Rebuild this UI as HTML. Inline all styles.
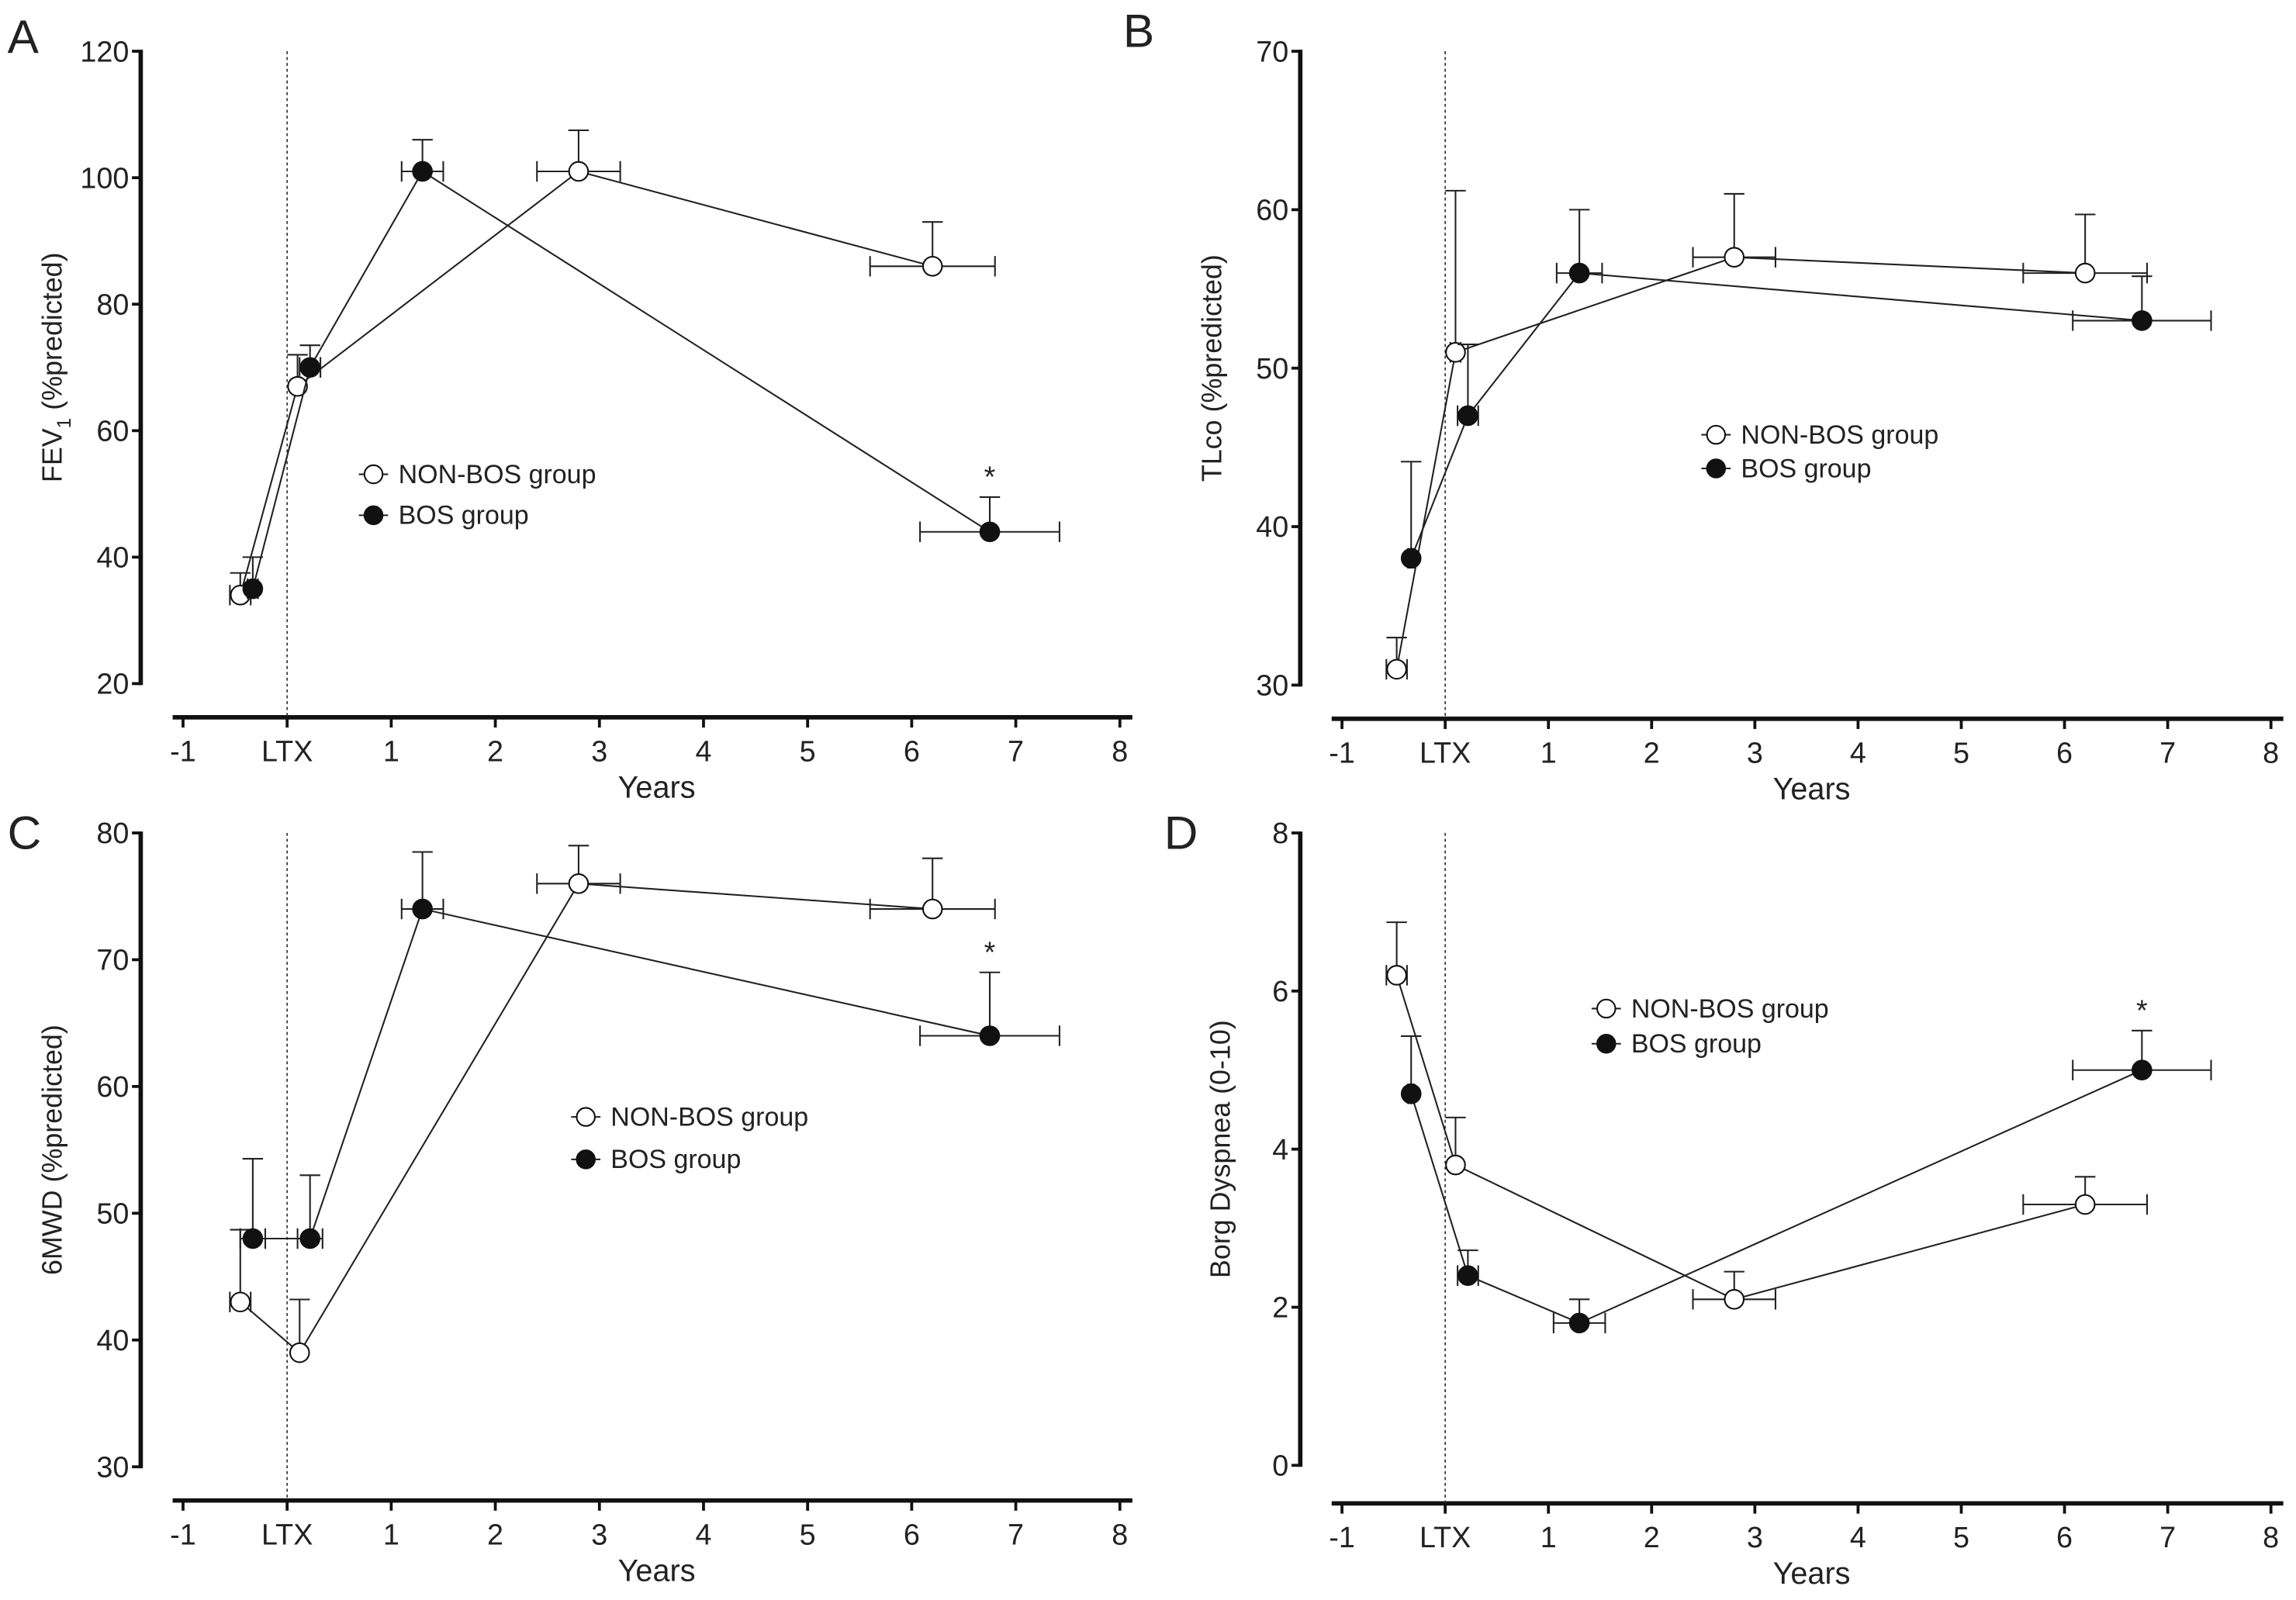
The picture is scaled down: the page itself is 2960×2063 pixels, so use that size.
<!DOCTYPE html>
<html><head><meta charset="utf-8"><style>
html,body{margin:0;padding:0;background:#fff;}
svg{display:block;}
text{font-family:"Liberation Sans Narrow","Liberation Sans",sans-serif;fill:#222;}
.yl{font-family:"Liberation Sans",sans-serif;}
</style></head><body>
<svg id="fig" width="2960" height="2063" viewBox="0 0 1568 1093" xmlns="http://www.w3.org/2000/svg"></svg>
<script>
// x values (years), shared
const xTicks = [-1,0,1,2,3,4,5,6,7,8];
const xTickLabels = ["-1","LTX","1","2","3","4","5","6","7","8"];

// Panel A: FEV1
const aNonX = [-0.45,0.1,2.8,6.2], aNonY = [34,67,101,86], aNonYe = [3.5,5,6.5,7], aNonXe = [0.1,0,0.4,0.6];
const aBosX = [-0.33,0.22,1.3,6.75], aBosY = [35,70,101,44], aBosYe = [5,3.5,5,5.5], aBosXe = [0.05,0.1,0.2,0.67];
const aTicks = [20,40,60,80,100,120];
// Panel B: TLco
const bNonX = [-0.47,0.1,2.8,6.2], bNonY = [31,51,57,56], bNonYe = [2,10.2,4,3.7], bNonXe = [0.1,0.05,0.4,0.6];
const bBosX = [-0.33,0.22,1.3,6.75], bBosY = [38,47,56,53], bBosYe = [6.1,4.5,4,2.8], bBosXe = [0.03,0.1,0.22,0.67];
const bTicks = [30,40,50,60,70];
// Panel C: 6MWD
const cNonX = [-0.45,0.12,2.8,6.2], cNonY = [43,39,76,74], cNonYe = [5.7,4.2,3,4], cNonXe = [0.1,0,0.4,0.6];
const cBosX = [-0.33,0.22,1.3,6.75], cBosY = [48,48,74,64], cBosYe = [6.3,5,4.5,5], cBosXe = [0.12,0.12,0.2,0.67];
const cTicks = [30,40,50,60,70,80];
// Panel D: Borg
const dNonX = [-0.47,0.1,2.8,6.2], dNonY = [6.2,3.8,2.1,3.3], dNonYe = [0.67,0.6,0.35,0.35], dNonXe = [0.1,0,0.4,0.6];
const dBosX = [-0.33,0.22,1.3,6.75], dBosY = [4.7,2.4,1.8,5.0], dBosYe = [0.73,0.32,0.3,0.5], dBosXe = [0.03,0.1,0.25,0.67];
const dTicks = [0,2,4,6,8];

const NS="http://www.w3.org/2000/svg";
const svg=document.getElementById('fig');
function mk(tag,attrs,parent){const e=document.createElementNS(NS,tag);for(const k in attrs)e.setAttribute(k,attrs[k]);(parent||svg).appendChild(e);return e;}

function panel(p){
  const g=mk('g',{});
  
  
  const X=v=>p.x0+v*p.xs;
  const Y=v=>p.yTop+(p.yMax-v)/(p.yMax-p.yMin)*(p.yBot-p.yTop);
  const L=mk('text',{x:p.lx,y:p.ly,'font-size':32,class:'yl'},g);L.textContent=p.id;
  
  
  const ya=mk('line',{x1:p.ax,x2:p.ax,y1:Y(p.yMax)-1,y2:Y(p.yMin)+1,stroke:'#111','stroke-width':3},g);
  
  
  p.ticks.forEach(t=>{
    mk('line',{x1:p.ax-6,x2:p.ax,y1:Y(t),y2:Y(t),stroke:'#111','stroke-width':2},g);
    const tx=mk('text',{x:p.ax-8,y:Y(t)+7,'font-size':20,'text-anchor':'end'},g);tx.textContent=t;
    
    
  });
  const xa=mk('line',{x1:X(-1.1),x2:X(8.12),y1:p.xay,y2:p.xay,stroke:'#111','stroke-width':3},g);
  
  
  xTicks.forEach((t,i)=>{
    mk('line',{x1:X(t),x2:X(t),y1:p.xay,y2:p.xay+7,stroke:'#111','stroke-width':2},g);
    const tx=mk('text',{x:X(t),y:p.xay+30,'font-size':20,'text-anchor':'middle'},g);tx.textContent=xTickLabels[i];
    
    
  });
  const xt=mk('text',{x:X(3.55),y:p.xay+55,'font-size':21,'text-anchor':'middle'},g);xt.textContent='Years';
  
  
  const yt=mk('text',{x:0,y:0,'font-size':19,'text-anchor':'middle',class:'yl',transform:`translate(${p.ytx},${(Y(p.yMax)+Y(p.yMin))/2}) rotate(-90)`},g);
  yt.innerHTML=p.ytitle;
  
  
  const dl=mk('line',{x1:X(0),x2:X(0),y1:Y(p.yMax),y2:p.xay,stroke:'#333','stroke-width':0.9,'stroke-dasharray':'2,2'},g);
  
  
  function series(xs,ys,ye,xe,filled,name){
    const sg=mk('g',{},g);
    
    
    const pts=xs.map((x,i)=>X(x)+','+Y(ys[i])).join(' ');
    mk('polyline',{points:pts,fill:'none',stroke:'#222','stroke-width':1.1},sg);
    xs.forEach((x,i)=>{
      const cx=X(x),cy=Y(ys[i]),top=Y(ys[i]+ye[i]);
      const eb=mk('path',{d:`M${cx},${cy}V${top}M${cx-7},${top}H${cx+7}`,stroke:'#222','stroke-width':1.1,fill:'none'},sg);
      
      
      if(xe[i]>0){const l=X(x-xe[i]),r=X(x+xe[i]);
        mk('path',{d:`M${l},${cy}H${r}M${l},${cy-7}V${cy+7}M${r},${cy-7}V${cy+7}`,stroke:'#222','stroke-width':1.1,fill:'none'},sg);}
      const c=mk('circle',{cx:cx,cy:cy,r:6.5,fill:filled?'#111':'#fff',stroke:'#111','stroke-width':1.1},sg);
      
      
    });
  }
  series(p.nx,p.ny,p.nye,p.nxe,false,'series-non-bos');
  series(p.bx,p.by,p.bye,p.bxe,true,'series-bos');
  if(p.star){const s=mk('text',{x:X(p.bx[3]),y:Y(p.by[3]+p.bye[3])-7,'font-size':20,'text-anchor':'middle'},g);s.textContent='*';
    
    }
  const lg=mk('g',{},g);
  
  
  [['NON-BOS group',false,0],['BOS group',true,p.lgap]].forEach(([t,f,dy])=>{
    const e=mk('g',{},lg);
    
    
    const y=p.lgy+dy;
    mk('line',{x1:p.lgx-10,x2:p.lgx+10,y1:y,y2:y,stroke:'#222','stroke-width':1.1},e);
    mk('circle',{cx:p.lgx,cy:y,r:6.2,fill:f?'#111':'#fff',stroke:'#111','stroke-width':1.1},e);
    const tx=mk('text',{x:p.lgx+17,y:y+6,'font-size':18},e);tx.textContent=t;
  });
}

panel({id:'A',lx:5,ly:36,ax:96,x0:196,xs:71.1,yTop:35,yBot:467,yMin:20,yMax:120,ticks:aTicks,xay:490,ytx:42,
 ytitle:'FEV<tspan font-size="13" dy="6">1</tspan><tspan dy="-6"> (%predicted)</tspan>',
 nx:aNonX,ny:aNonY,nye:aNonYe,nxe:aNonXe,bx:aBosX,by:aBosY,bye:aBosYe,bxe:aBosXe,star:true,lgx:255,lgy:324,lgap:28});
panel({id:'B',lx:767,ly:32,ax:888,x0:987,xs:70.5,yTop:35,yBot:468,yMin:30,yMax:70,ticks:bTicks,xay:491,ytx:834,
 ytitle:'TLco (%predicted)',
 nx:bNonX,ny:bNonY,nye:bNonYe,nxe:bNonXe,bx:bBosX,by:bBosY,bye:bBosYe,bxe:bBosXe,star:false,lgx:1172,lgy:297,lgap:23});
panel({id:'C',lx:5,ly:580,ax:96,x0:196,xs:71.1,yTop:569,yBot:1002,yMin:30,yMax:80,ticks:cTicks,xay:1025,ytx:42,
 ytitle:'6MWD (%predicted)',
 nx:cNonX,ny:cNonY,nye:cNonYe,nxe:cNonXe,bx:cBosX,by:cBosY,bye:cBosYe,bxe:cBosXe,star:true,lgx:400,lgy:763,lgap:29});
panel({id:'D',lx:795,ly:580,ax:888,x0:987,xs:70.5,yTop:569,yBot:1001,yMin:0,yMax:8,ticks:dTicks,xay:1027,ytx:840,
 ytitle:'Borg Dyspnea (0-10)',
 nx:dNonX,ny:dNonY,nye:dNonYe,nxe:dNonXe,bx:dBosX,by:dBosY,bye:dBosYe,bxe:dBosXe,star:true,lgx:1097,lgy:689,lgap:24});
</script>
</body></html>
